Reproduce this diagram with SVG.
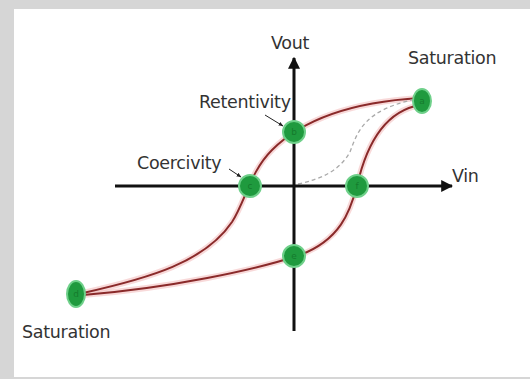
<svg xmlns="http://www.w3.org/2000/svg" width="530" height="379" viewBox="0 0 530 379">
<defs>
<style>
.lbl{font-family:"DejaVu Sans","Liberation Sans",sans-serif;font-size:17.5px;fill:#333;letter-spacing:-0.3px}
.curve{fill:none;stroke:#8a2a2a;stroke-width:2}
.glow{fill:none;stroke:#f3c0c0;stroke-width:6;opacity:0.6}
.node{fill:#1f9a3e;stroke:#6fd08a;stroke-width:2}
.nl{font-family:"DejaVu Sans",sans-serif;font-size:9px;fill:#157a2d;text-anchor:middle}
.axis{stroke:#111;stroke-width:3}
</style>
<marker id="ah" viewBox="0 0 10 10" refX="9" refY="5" markerWidth="4" markerHeight="4" orient="auto"><path d="M0,0 L10,5 L0,10 z" fill="#111"/></marker>
<marker id="sm" viewBox="0 0 10 10" refX="9" refY="5" markerWidth="5" markerHeight="5" orient="auto"><path d="M0,1 L10,5 L0,9 z" fill="#222"/></marker>
</defs>
<rect x="0" y="0" width="530" height="379" fill="#d6d6d6"/>
<rect x="14" y="9" width="516" height="368" fill="#ffffff"/>
<g id="connectors">
<path class="glow" d="M83,293 C150,278 205,262 232,222 C246,200 250,172 272,150 C302,120 352,102 420,98"/>
<path class="glow" d="M83,295 C170,288 255,270 300,255 C340,240 350,212 357,186 C364,155 380,112 420,105"/>
<path class="curve" d="M83,293 C150,278 205,262 232,222 C246,200 250,172 272,150 C302,120 352,102 420,98"/>
<path class="curve" d="M83,295 C170,288 255,270 300,255 C340,240 350,212 357,186 C364,155 380,112 420,105"/>
<path d="M298,184 C322,179 340,170 350,152 C358,130 365,110 416,99" fill="none" stroke="#aaa" stroke-width="1.3" stroke-dasharray="4,3"/>
<line class="axis" x1="115" y1="186" x2="452" y2="186" marker-end="url(#ah)"/>
<line class="axis" x1="294" y1="331" x2="294" y2="58" marker-end="url(#ah)"/>
<line x1="265" y1="115" x2="283" y2="126" stroke="#222" stroke-width="1" marker-end="url(#sm)"/>
<line x1="229" y1="169" x2="241" y2="177" stroke="#222" stroke-width="1" marker-end="url(#sm)"/>
</g>
<g id="a"><ellipse class="node" cx="422" cy="101" rx="9" ry="12"/><text class="nl" x="422" y="104">a</text></g>
<g id="b"><circle class="node" cx="294" cy="132" r="11"/><text class="nl" x="294" y="135">b</text></g>
<g id="c"><circle class="node" cx="250" cy="186" r="11"/><text class="nl" x="250" y="189">c</text></g>
<g id="f"><circle class="node" cx="357" cy="186" r="11"/><text class="nl" x="357" y="189">f</text></g>
<g id="e"><circle class="node" cx="294" cy="256" r="11"/><text class="nl" x="294" y="259">e</text></g>
<g id="d"><ellipse class="node" cx="76" cy="294" rx="9" ry="13"/><text class="nl" x="76" y="297">d</text></g>
<g id="labels">
<text class="lbl" x="271" y="49">Vout</text>
<text class="lbl" x="452" y="182">Vin</text>
<text class="lbl" x="408" y="64">Saturation</text>
<text class="lbl" x="22" y="338">Saturation</text>
<text class="lbl" x="199" y="108">Retentivity</text>
<text class="lbl" x="137" y="169">Coercivity</text>
</g>
</svg>
